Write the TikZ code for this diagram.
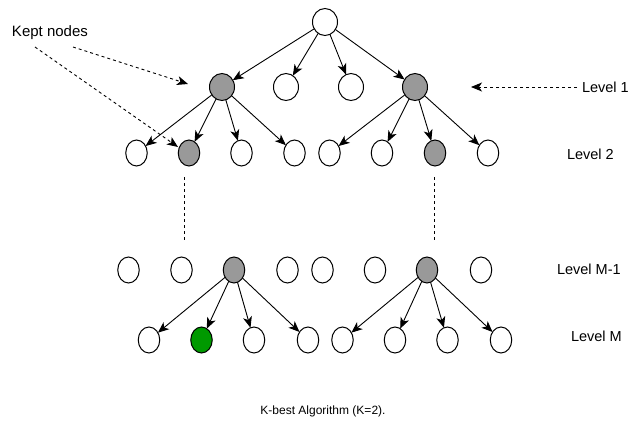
\documentclass[tikz,border=0pt]{standalone}
\usepackage{fontspec}
\setmainfont{Liberation Sans}
\usetikzlibrary{shapes.geometric,arrows.meta}
\definecolor{keptgray}{RGB}{153,153,153}
\definecolor{goalgreen}{RGB}{0,153,0}
\begin{document}
\begin{tikzpicture}[x=1pt,y=-1pt,
  every node/.style={inner sep=0pt, outer sep=0pt},
  big/.style={ellipse, draw=black, line width=1pt, fill=white, minimum width=25pt, minimum height=27pt},
  small/.style={ellipse, draw=black, line width=1pt, fill=white, minimum width=21.5pt, minimum height=26pt},
  kept/.style={fill=keptgray},
  goal/.style={fill=goalgreen},
  edge/.style={line width=0.9pt, -{Stealth[length=11pt,width=9pt,inset=3pt]}},
  dashedarrow/.style={line width=0.9pt, dash pattern=on 3pt off 3pt, -{Stealth[length=11pt,width=9pt,inset=3pt]}},
  dots/.style={line width=0.9pt, dash pattern=on 3pt off 3pt},
  label/.style={font=\fontsize{14.5}{16}\selectfont, anchor=west}]
\useasboundingbox (0,0) rectangle (632,426);
% root and level 1
\node[big] (r) at (325,22) {};
\node[big,kept] (a1) at (222,87) {};
\node[big] (a2) at (286,87) {};
\node[big] (a3) at (351,87) {};
\node[big,kept] (a4) at (415,87) {};
% level 2
\node[small] (b1) at (136.5,153) {};
\node[small,kept] (b2) at (189,153) {};
\node[small] (b3) at (241.5,153) {};
\node[small] (b4) at (294.5,153) {};
\node[small] (b5) at (329.5,153) {};
\node[small] (b6) at (382,153) {};
\node[small,kept] (b7) at (435,153) {};
\node[small] (b8) at (488,153) {};
% level M-1
\node[small] (c1) at (128.5,270) {};
\node[small] (c2) at (181.5,270) {};
\node[small,kept] (c3) at (234,270) {};
\node[small] (c4) at (287.5,270) {};
\node[small] (c5) at (322.5,270) {};
\node[small] (c6) at (375,270) {};
\node[small,kept] (c7) at (427,270) {};
\node[small] (c8) at (481,270) {};
% level M
\node[small] (d1) at (149,340) {};
\node[small,goal] (d2) at (201.5,340) {};
\node[small] (d3) at (254,340) {};
\node[small] (d4) at (308,340) {};
\node[small] (d5) at (342.5,340) {};
\node[small] (d6) at (395,340) {};
\node[small] (d7) at (447.5,340) {};
\node[small] (d8) at (501,340) {};
% edges
\foreach \t in {a1,a2,a3,a4} \draw[edge] (r) -- (\t);
\foreach \t in {b1,b2,b3,b4} \draw[edge] (a1) -- (\t);
\foreach \t in {b5,b6,b7,b8} \draw[edge] (a4) -- (\t);
\foreach \t in {d1,d2,d3,d4} \draw[edge] (c3) -- (\t);
\foreach \t in {d5,d6,d7,d8} \draw[edge] (c7) -- (\t);
% vertical dotted continuation
\coordinate (v1s) at (184,177); \coordinate (v1e) at (184,241);
\coordinate (v2s) at (434,177); \coordinate (v2e) at (434,241);
\draw[dots] (v1s) -- (v1e);
\draw[dots] (v2s) -- (v2e);
% labels
\node[label, font=\fontsize{15}{17}\selectfont] (kept) at (12,33) {Kept nodes};
\coordinate (k1s) at (35,47); \coordinate (k1e) at (178,147);
\coordinate (k2s) at (73,47); \coordinate (k2e) at (188,84);
\draw[dashedarrow] (k1s) -- (k1e);
\draw[dashedarrow] (k2s) -- (k2e);
\node[label] (l1) at (582,87) {Level 1};
\coordinate (l1s) at (577,87); \coordinate (l1e) at (471,87);
\draw[dashedarrow] (l1s) -- (l1e);
\node[label] (l2) at (567,154) {Level 2};
\node[label] (l3) at (557,269) {Level M-1};
\node[label] (l4) at (571,336) {Level M};
\node[font=\fontsize{12}{14}\selectfont] (cap) at (323,411) {K-best Algorithm (K=2).};
\end{tikzpicture}
\end{document}
